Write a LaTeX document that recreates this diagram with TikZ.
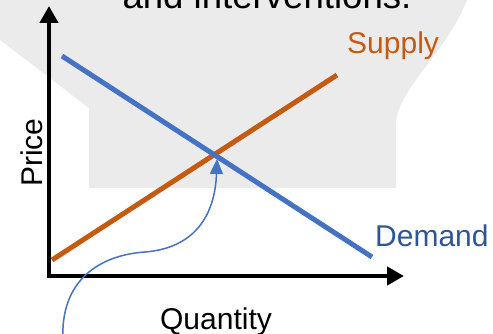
\documentclass[tikz,border=0pt]{standalone}
\usepackage{fontspec}
\setmainfont{Liberation Sans}
\usetikzlibrary{arrows.meta}
\definecolor{supplyc}{HTML}{C55A11}
\definecolor{demandc}{HTML}{4472C4}
\definecolor{demandt}{HTML}{2F5597}
\definecolor{bggray}{HTML}{EBEBEB}
\begin{document}
\begin{tikzpicture}[x=1pt,y=-1pt,
  lbl/.style={inner sep=0pt,font=\fontsize{30}{36}\selectfont},
  axis/.style={line width=4.5pt,-{Triangle[width=18pt,length=17pt]}},
  curve/.style={line width=5pt,line cap=butt}]
\useasboundingbox (0,0) rectangle (493,334);
% background callout shape
\fill[bggray] (0,-5) -- (0,40) -- (89,108) -- (89,188) -- (396,188) -- (396,125)
  .. controls (396,90) and (445,55) .. (467,0) -- (470,-5) -- cycle;
\node[lbl,font=\fontsize{36.6}{44}\selectfont,anchor=base] (title) at (267,9) {and interventions.};
% axes
\coordinate (O) at (49,276);
\coordinate (ytop) at (49,6);
\coordinate (xend) at (404,276);
\draw[axis] ([yshift=-2.25pt]O) -- (ytop);
\draw[axis] (O) -- (xend);
% curves
\coordinate (s1) at (52,260);
\coordinate (s2) at (337,75);
\coordinate (d1) at (62,56);
\coordinate (d2) at (372,257);
\draw[curve,supplyc] (s1) -- (s2);
\draw[curve,demandc] (d1) -- (d2);
% labels
\node[lbl,text=supplyc,anchor=base west] (supply) at (347,54) {Supply};
\node[lbl,text=demandt,anchor=base west] (demand) at (375,246) {Demand};
\node[lbl,anchor=base] (qty) at (216,329) {Quantity};
\node[lbl,rotate=90,anchor=base west] (price) at (42,187) {Price};
% pointer arrow
\coordinate (eq) at (217,159);
\coordinate (start) at (63,340);
\draw[demandc,line width=1.5pt,-{Triangle[width=13pt,length=15pt]}]
  (start) .. controls (60,280) and (100,255) .. (145,252)
  .. controls (195,248) and (215,215) .. (eq);
\end{tikzpicture}
\end{document}
